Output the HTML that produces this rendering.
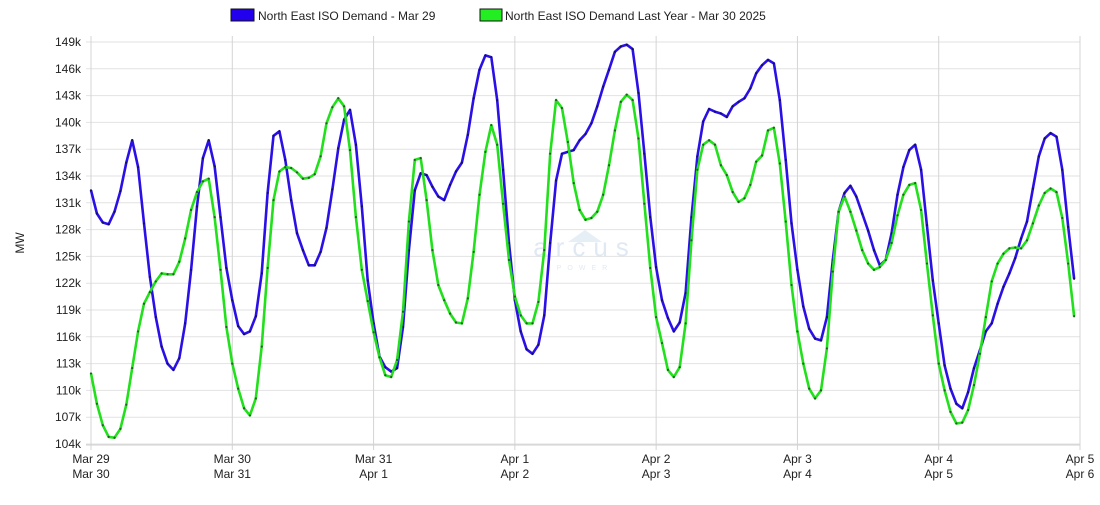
<!DOCTYPE html>
<html><head><meta charset="utf-8">
<style>
body{margin:0;background:#fff;width:1100px;height:500px;overflow:hidden;font-family:"Liberation Sans",Arial,sans-serif;}
svg text{font-family:"Liberation Sans",Arial,sans-serif;}
</style></head>
<body>
<svg id="chart" width="1100" height="500" xmlns="http://www.w3.org/2000/svg">
<g id="grid"></g>
<g id="watermark" opacity="0.35">
<path d="M568 242 L585 230 L602 242 Z" fill="#b8cfe6"/>
<text x="585" y="256" font-size="26" fill="#a9c3df" text-anchor="middle" letter-spacing="8">arcus</text>
<text x="585" y="270" font-size="7" fill="#a9c3df" text-anchor="middle" letter-spacing="6">POWER</text>
</g>
<g id="yaxis"></g>
<g id="xaxis"></g>
<g id="series"></g>
<text x="24" y="243" font-size="12" fill="#222" text-anchor="middle" transform="rotate(-90 24 243)">MW</text>
<g>
<g>
<rect x="231" y="9" width="23" height="12" fill="#2200ee" stroke="#111" stroke-width="1"/>
<text x="258" y="20" font-size="12" fill="#222">North East ISO Demand - Mar 29</text>
</g>
<g>
<rect x="480" y="9" width="22" height="12" fill="#22ee22" stroke="#111" stroke-width="1"/>
<text x="505" y="20" font-size="12" fill="#222">North East ISO Demand Last Year - Mar 30 2025</text>
</g>
</g>
</svg>
<script>
const yTicks=[104,107,110,113,116,119,122,125,128,131,134,137,140,143,146,149];
const xLabels1=["Mar 29","Mar 30","Mar 31","Apr 1","Apr 2","Apr 3","Apr 4","Apr 5"];
const xLabels2=["Mar 30","Mar 31","Apr 1","Apr 2","Apr 3","Apr 4","Apr 5","Apr 6"];
const demandCurrent=[132.4,129.8,128.8,128.6,130.0,132.3,135.5,138.0,135.0,128.7,122.7,118.2,114.9,113.0,112.3,113.6,117.5,123.5,130.6,136.0,138.0,135.1,129.4,123.7,
120.1,117.2,116.3,116.6,118.3,123.1,132.1,138.5,139.0,135.8,131.3,127.6,125.7,124.0,124.0,125.5,128.2,132.5,137.1,140.3,141.4,137.5,130.6,122.3,
117.5,113.8,112.6,112.1,112.5,117.1,125.7,132.4,134.3,134.1,132.8,131.7,131.3,133.0,134.5,135.5,138.6,142.7,145.9,147.5,147.3,142.5,134.7,126.5,
120.1,116.6,114.6,114.1,115.1,118.4,126.5,133.5,136.5,136.7,136.9,138.0,138.7,139.9,141.8,144.0,145.9,147.9,148.5,148.7,148.2,143.3,136.5,129.4,
123.8,120.1,118.1,116.6,117.6,120.9,129.4,136.2,140.1,141.5,141.2,141.0,140.6,141.8,142.3,142.7,143.8,145.5,146.4,147.0,146.6,142.5,135.8,128.7,
123.5,119.4,116.9,115.8,115.6,118.2,124.6,130.0,132.1,132.9,131.7,129.8,127.9,125.7,124.0,124.6,127.6,131.9,135.0,136.9,137.5,134.7,128.5,122.3,
117.5,112.8,110.2,108.5,108.0,109.8,112.5,114.5,116.6,117.5,119.7,121.6,123.1,124.8,127.0,128.9,132.6,136.2,138.2,138.8,138.4,134.7,128.3,122.5];
const demandLastYear=[111.9,108.5,106.1,104.8,104.7,105.7,108.4,112.5,116.6,119.7,121.0,122.2,123.1,123.0,123.0,124.4,127.0,130.2,132.2,133.4,133.7,129.4,123.5,117.1,
113.0,110.2,108.0,107.2,109.1,114.9,123.7,131.3,134.5,135.0,134.9,134.4,133.7,133.8,134.2,136.2,139.9,141.7,142.7,141.8,136.9,129.4,123.5,120.0,
116.5,113.7,111.7,111.5,113.4,118.8,128.9,135.8,136.0,131.3,125.7,121.8,120.1,118.6,117.6,117.5,120.3,125.5,131.9,136.7,139.7,137.5,130.9,124.6,
120.5,118.4,117.5,117.5,119.9,125.7,136.5,142.5,141.6,137.8,133.2,130.2,129.1,129.3,130.0,131.9,135.2,139.1,142.3,143.1,142.5,138.2,130.9,123.7,
118.2,115.3,112.3,111.5,112.6,117.5,126.8,134.7,137.5,138.0,137.5,135.2,134.1,132.2,131.1,131.5,133.0,135.6,136.3,139.1,139.4,135.4,128.9,121.8,
116.6,113.0,110.2,109.1,110.0,114.7,123.3,130.0,131.7,130.0,127.9,125.7,124.2,123.5,123.8,124.6,126.5,129.6,131.9,133.0,133.2,130.2,124.2,118.4,
113.0,110.0,107.6,106.3,106.4,107.8,110.6,114.1,118.2,122.2,124.2,125.3,125.9,126.0,125.9,126.8,128.7,130.7,132.1,132.6,132.2,129.3,124.2,118.3];

const NS="http://www.w3.org/2000/svg";
const X0=91,X1=1080,Y0=444,Y1=42,VMIN=104,VMAX=149,HOURS=168;
const xScale=h=>X0+(X1-X0)*h/HOURS;
const yScale=v=>Y0-(Y0-Y1)*(v-VMIN)/(VMAX-VMIN);
function mk(tag,attrs,parent){const e=document.createElementNS(NS,tag);for(const k in attrs)e.setAttribute(k,attrs[k]);parent.appendChild(e);return e;}
const grid=document.getElementById('grid'),ya=document.getElementById('yaxis'),xa=document.getElementById('xaxis'),ser=document.getElementById('series');
yTicks.forEach(t=>{
  const y=yScale(t);
  const l=mk('line',{x1:X0-5,x2:X1,y1:y,y2:y,stroke:'#e2e2e2','stroke-width':1},grid);
  
  
  const tx=mk('text',{x:X0-10,y:y+4,'font-size':12,fill:'#222','text-anchor':'end'},ya);
  tx.textContent=t+'k';
  
  
});
xLabels1.forEach((lab,i)=>{
  const x=xScale(i*24);
  const l=mk('line',{x1:x,x2:x,y1:Y1-6,y2:Y0+6,stroke:'#d4d4d4','stroke-width':1},grid);
  
  
  const t1=mk('text',{x:x,y:463,'font-size':12,fill:'#222','text-anchor':'middle'},xa);
  t1.textContent=lab;
  
  
  const t2=mk('text',{x:x,y:478,'font-size':12,fill:'#222','text-anchor':'middle'},xa);
  t2.textContent=xLabels2[i];
  
  
});
mk('line',{x1:X0-5,x2:X1,y1:Y0+1,y2:Y0+1,stroke:'#cfcfcf','stroke-width':1},grid);
function drawSeries(data,color,dot,name){
  const g=mk('g',{},ser);
  
  
  const pts=data.map((v,i)=>xScale(i).toFixed(1)+','+yScale(v).toFixed(1)).join(' ');
  const pl=mk('polyline',{points:pts,fill:'none',stroke:color,'stroke-width':2.6,'stroke-linejoin':'round'},g);
  
  
  data.forEach((v,i)=>{
    const c=mk('circle',{cx:xScale(i),cy:yScale(v),r:1.1,fill:dot},g);
    
    
  });
}
drawSeries(demandCurrent,'#2a10e6','#101060','series-current');
drawSeries(demandLastYear,'#22e01c','#206020','series-last-year');
</script>
</body></html>
